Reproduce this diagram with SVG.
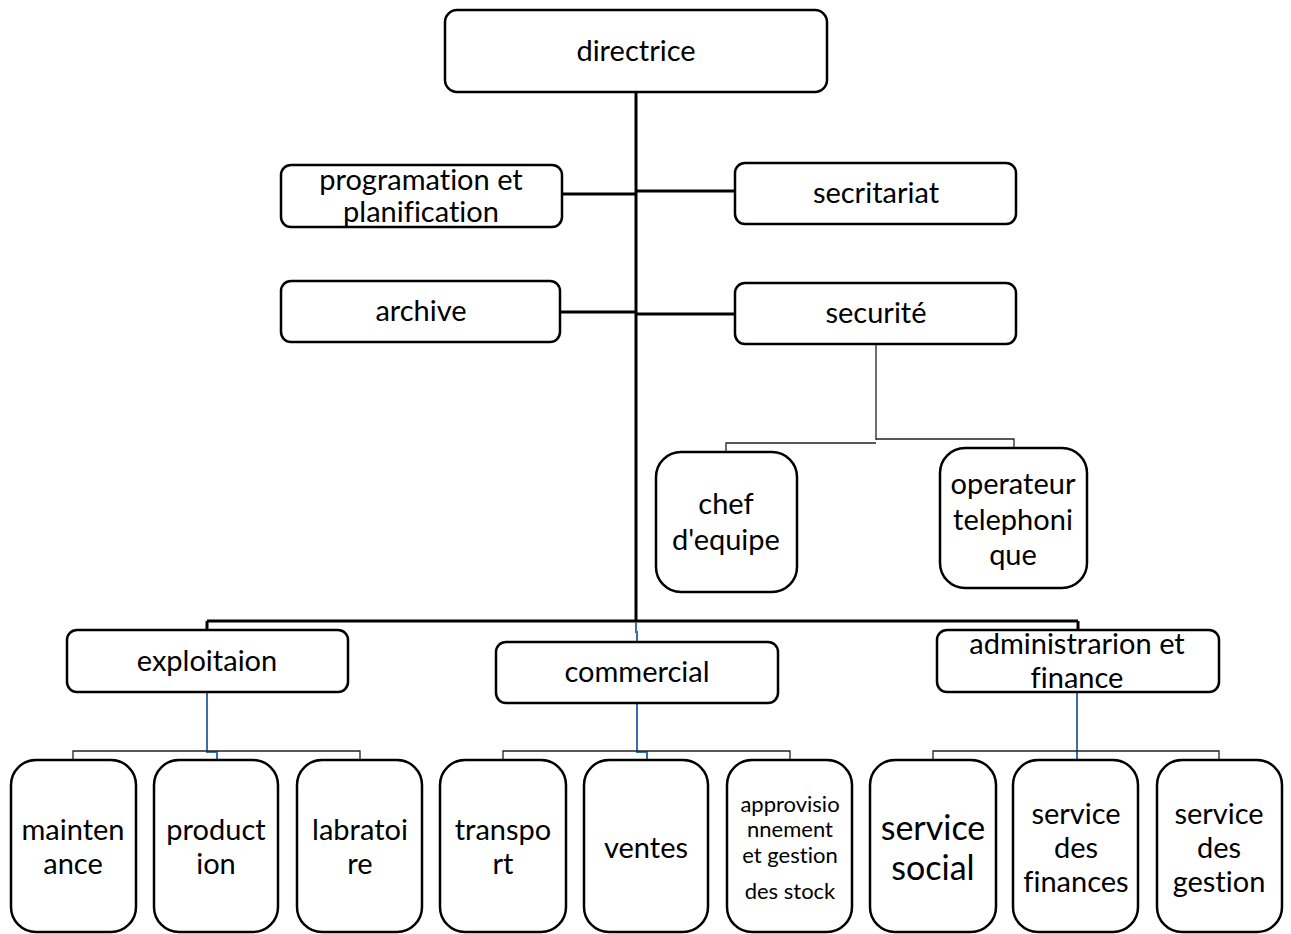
<svg xmlns="http://www.w3.org/2000/svg" width="1291" height="934" viewBox="0 0 1291 934">
<style>
.b{fill:#fff;stroke:#000;stroke-width:2.5}
.t{font-family:Lato,"Open Sans",sans-serif;font-size:29px;fill:#000;text-anchor:middle;font-variant-ligatures:none}
.a{font-size:22px}
.m{fill:none;stroke:#000;stroke-width:3}
.s{fill:none;stroke:#222;stroke-width:1.3}
.u{fill:none;stroke:#3b6ea5;stroke-width:2}
</style>
<rect width="1291" height="934" fill="#fff"/>
<g id="connectors">
<path class="m" d="M636 92V622M562 194H636M636 191H735M560 312H636M636 314H735M207 621H1078M207 621V630M1078 621V630"/>
<path class="u" d="M636 622V632H637V642M207 692V752H217V760M637 703V752H647V760M1077 692V760"/>
<path class="s" d="M876 344V440M726 452V443H876M876 439H1014V448M73 760V751H360V760M503 760V751H790V760M933 760V751H1219V760"/>
</g>
<g id="directrice"><rect class="b" x="445" y="10" width="382" height="82" rx="12"/><text class="t" x="636" y="61">directrice</text></g>
<g id="programation"><rect class="b" x="281" y="165" width="281" height="62" rx="10"/><text class="t" x="421" y="190">programation et</text><text class="t" x="421" y="222">planification</text></g>
<g id="secritariat"><rect class="b" x="735" y="163" width="281" height="61" rx="10"/><text class="t" x="876" y="203">secritariat</text></g>
<g id="archive"><rect class="b" x="281" y="281" width="279" height="61" rx="10"/><text class="t" x="421" y="321">archive</text></g>
<g id="securite"><rect class="b" x="735" y="283" width="281" height="61" rx="10"/><text class="t" x="876" y="323">securité</text></g>
<g id="chef"><rect class="b" x="656" y="452" width="141" height="140" rx="25"/><text class="t" x="726" y="514">chef</text><text class="t" x="726" y="550">d'equipe</text></g>
<g id="operateur"><rect class="b" x="940" y="448" width="147" height="140" rx="25"/><text class="t" x="1013" y="494">operateur</text><text class="t" x="1013" y="530">telephoni</text><text class="t" x="1013" y="565">que</text></g>
<g id="exploitaion"><rect class="b" x="67" y="630" width="281" height="62" rx="10"/><text class="t" x="207" y="671">exploitaion</text></g>
<g id="commercial"><rect class="b" x="496" y="642" width="282" height="61" rx="10"/><text class="t" x="637" y="682">commercial</text></g>
<g id="administration"><rect class="b" x="937" y="630" width="282" height="62" rx="10"/><text class="t" x="1077" y="654">administrarion et</text><text class="t" x="1077" y="688">finance</text></g>
<g id="maintenance"><rect class="b" x="11" y="760" width="125" height="172" rx="25"/><text class="t" x="73" y="840">mainten</text><text class="t" x="73" y="874">ance</text></g>
<g id="production"><rect class="b" x="154" y="760" width="124" height="172" rx="25"/><text class="t" x="216" y="840">product</text><text class="t" x="216" y="874">ion</text></g>
<g id="labratoire"><rect class="b" x="297" y="760" width="125" height="172" rx="25"/><text class="t" x="360" y="840">labratoi</text><text class="t" x="360" y="874">re</text></g>
<g id="transport"><rect class="b" x="440" y="760" width="126" height="172" rx="25"/><text class="t" x="503" y="840">transpo</text><text class="t" x="503" y="874">rt</text></g>
<g id="ventes"><rect class="b" x="584" y="760" width="124" height="172" rx="25"/><text class="t" x="646" y="858">ventes</text></g>
<g id="approvisionnement"><rect class="b" x="727" y="760" width="125" height="172" rx="25"/><text class="t a" x="790" y="812">approvisio</text><text class="t a" x="790" y="837">nnement</text><text class="t a" x="790" y="863">et gestion</text><text class="t a" x="790" y="899">des stock</text></g>
<g id="social"><rect class="b" x="870" y="760" width="126" height="172" rx="25"/><text class="t" x="933" y="840" style="font-size:34px">service</text><text class="t" x="933" y="880" style="font-size:34px">social</text></g>
<g id="finances"><rect class="b" x="1013" y="760" width="125" height="172" rx="25"/><text class="t" x="1076" y="824">service</text><text class="t" x="1076" y="858">des</text><text class="t" x="1076" y="892">finances</text></g>
<g id="gestion"><rect class="b" x="1157" y="760" width="125" height="172" rx="25"/><text class="t" x="1219" y="824">service</text><text class="t" x="1219" y="858">des</text><text class="t" x="1219" y="892">gestion</text></g>
</svg>
